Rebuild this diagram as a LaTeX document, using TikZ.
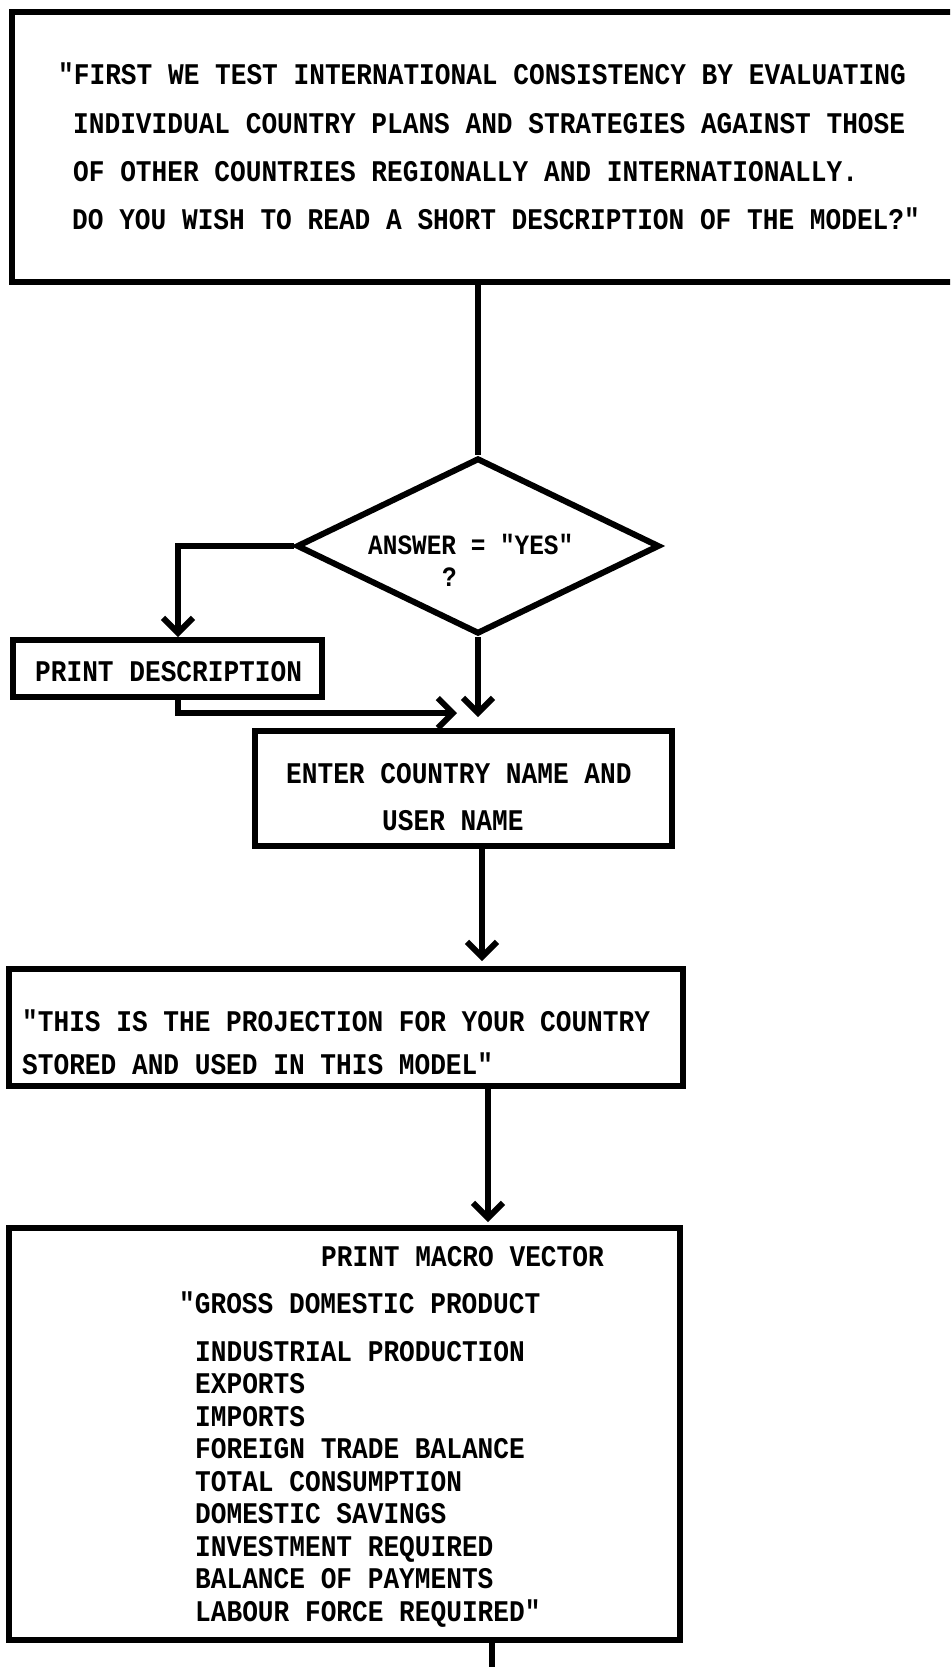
\documentclass[tikz,border=0pt]{standalone}
\usepackage{fontspec}
\newfontfamily\tw[FakeStretch=0.872]{Liberation Mono}
\usetikzlibrary{arrows.meta,shapes.geometric}
\begin{document}
\begin{tikzpicture}[x=1pt,y=-1pt,
  box/.style={draw, rectangle, line width=6pt, inner sep=0pt},
  decision/.style={draw, diamond, line width=6pt, inner sep=0pt},
  txt/.style={anchor=base west, inner sep=0pt, font=\tw\bfseries\fontsize{30}{30}\selectfont},
  smalltxt/.style={txt, font=\tw\bfseries\fontsize{28}{28}\selectfont},
  link/.style={line width=6pt},
  flow/.style={link, -{Straight Barb[length=15pt,width=30pt]}}]
\useasboundingbox (0,0) rectangle (950,1667);
\clip (0,0) rectangle (950,1667);

% boxes and decision
\node[box, minimum width=948pt, minimum height=270pt] (top) at (486,147) {};
\node[decision, minimum width=363pt, minimum height=176pt] (dia) at (478,546) {};
\node[box, minimum width=309pt, minimum height=57pt] (desc) at (167.5,668.5) {};
\node[box, minimum width=417pt, minimum height=115pt] (enter) at (463.5,788.5) {};
\node[box, minimum width=674pt, minimum height=117pt] (proj) at (346,1027.5) {};
\node[box, minimum width=671pt, minimum height=412pt] (macro) at (344.5,1434) {};

% texts
\node[txt] (t1) at (58,85) {"FIRST WE TEST INTERNATIONAL CONSISTENCY BY EVALUATING};
\node[txt] (t2) at (73,133) {INDIVIDUAL COUNTRY PLANS AND STRATEGIES AGAINST THOSE};
\node[txt] (t3) at (73,181) {OF OTHER COUNTRIES REGIONALLY AND INTERNATIONALLY.};
\node[txt] (t4) at (72,229) {DO YOU WISH TO READ A SHORT DESCRIPTION OF THE MODEL?"};

\node[smalltxt] (d1) at (368,554) {ANSWER = "YES"};
\node[smalltxt] (d2) at (442,586) {?};

\node[txt] (p1) at (35,681) {PRINT DESCRIPTION};
\node[txt] (e1) at (286,783) {ENTER COUNTRY NAME AND};
\node[txt] (e2) at (382,830) {USER NAME};
\node[txt] (r1) at (22,1031) {"THIS IS THE PROJECTION FOR YOUR COUNTRY};
\node[txt] (r2) at (22,1074) {STORED AND USED IN THIS MODEL"};

\node[txt] (m0) at (321,1266) {PRINT MACRO VECTOR};
\node[txt] (m1) at (179,1313) {"GROSS DOMESTIC PRODUCT};
\node[txt] (m2) at (195,1361) {INDUSTRIAL PRODUCTION};
\node[txt] (m3) at (195,1393.5) {EXPORTS};
\node[txt] (m4) at (195,1426) {IMPORTS};
\node[txt] (m5) at (195,1458.5) {FOREIGN TRADE BALANCE};
\node[txt] (m6) at (195,1491) {TOTAL CONSUMPTION};
\node[txt] (m7) at (195,1523.5) {DOMESTIC SAVINGS};
\node[txt] (m8) at (195,1556) {INVESTMENT REQUIRED};
\node[txt] (m9) at (195,1588.5) {BALANCE OF PAYMENTS};
\node[txt] (m10) at (195,1621) {LABOUR FORCE REQUIRED"};

% connectors
\coordinate (jn) at (457,713);
\coordinate (out) at (492,1680);
\draw[link] (top.south -| dia.north) -- (dia.north);
\draw[flow] (dia.west) -| ([xshift=10.5pt]desc.north);
\draw[flow, shorten >=11pt] (dia.south) -- (dia.south |- enter.north);
\draw[flow] ([xshift=10.5pt]desc.south) |- (jn);
\draw[flow, shorten >=5pt] ([xshift=18.5pt]enter.south) -- ([xshift=18.5pt]enter.south |- proj.north);
\draw[flow, shorten >=3pt] ([xshift=142pt]proj.south) -- ([xshift=142pt]proj.south |- macro.north);
\draw[link] ([xshift=147.5pt]macro.south) -- (out);
\end{tikzpicture}
\end{document}
